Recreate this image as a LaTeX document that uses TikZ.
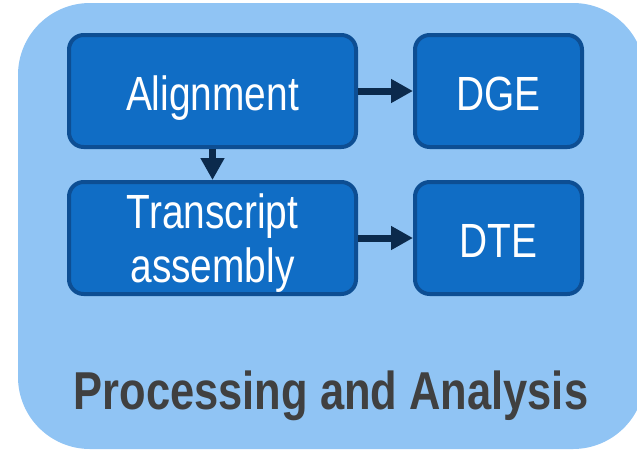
\documentclass[tikz,border=0pt]{standalone}
\usepackage{fontspec}
\setmainfont[FakeStretch=0.81]{Liberation Sans}
\newfontfamily\captionfont[FakeStretch=0.815]{Liberation Sans}
\usetikzlibrary{arrows.meta}

\definecolor{panelblue}{HTML}{90C4F4}
\definecolor{boxfill}{HTML}{106DC5}
\definecolor{boxedge}{HTML}{0D4E93}
\definecolor{arrownavy}{HTML}{0B2A4C}
\definecolor{titlegray}{HTML}{404040}

\tikzset{
  stagebox/.style={draw=boxedge, fill=boxfill, line width=3pt,
    rounded corners=11pt, minimum height=112*0.75pt, inner sep=0pt},
  widebox/.style={stagebox, minimum width=287*0.75pt},
  narrowbox/.style={stagebox, minimum width=167*0.75pt},
  boxtext/.style={anchor=base, text=white, inner sep=0pt,
    font=\fontsize{36}{40.5}\selectfont},
  flow/.style={draw=arrownavy, line width=5.25pt,
    -{Triangle[length=16.5pt, width=17pt]}},
  titletext/.style={anchor=base, text=titlegray, inner sep=0pt,
    font=\captionfont\bfseries\fontsize{40}{45}\selectfont}
}

\begin{document}
\begin{tikzpicture}[x=0.75pt, y=-0.75pt]
  \useasboundingbox (0,0) rectangle (637,451);
  \clip (0,0) rectangle (637,451);
  \fill[white] (0,0) rectangle (637,451);

  % panel behind the pipeline
  \fill[panelblue, rounded corners=54pt] (18,3) rectangle (645,449);

  % pipeline stages
  \node[widebox]   (align) at (212.5,91)  {};
  \node[narrowbox] (dge)   at (498.5,91)  {};
  \node[widebox]   (asm)   at (212.5,238) {};
  \node[narrowbox] (dte)   at (498.5,238) {};

  \node[boxtext] (alignlbl) at (212.5,110) {Alignment};
  \node[boxtext] (dgelbl)   at (498.5,110) {DGE};
  \node[boxtext] (asmlbl1)  at (212.5,228) {Transcript};
  \node[boxtext] (asmlbl2)  at (212.5,282) {assembly};
  \node[boxtext] (dtelbl)   at (498.5,257) {DTE};

  % connections between stages
  \draw[flow] (align.east) -- (dge.west);
  \draw[flow] (align.south) -- (asm.north);
  \draw[flow] (asm.east) -- (dte.west);

  % panel caption
  \node[titletext] (caption) at (331,409) {Processing and Analysis};
\end{tikzpicture}
\end{document}
